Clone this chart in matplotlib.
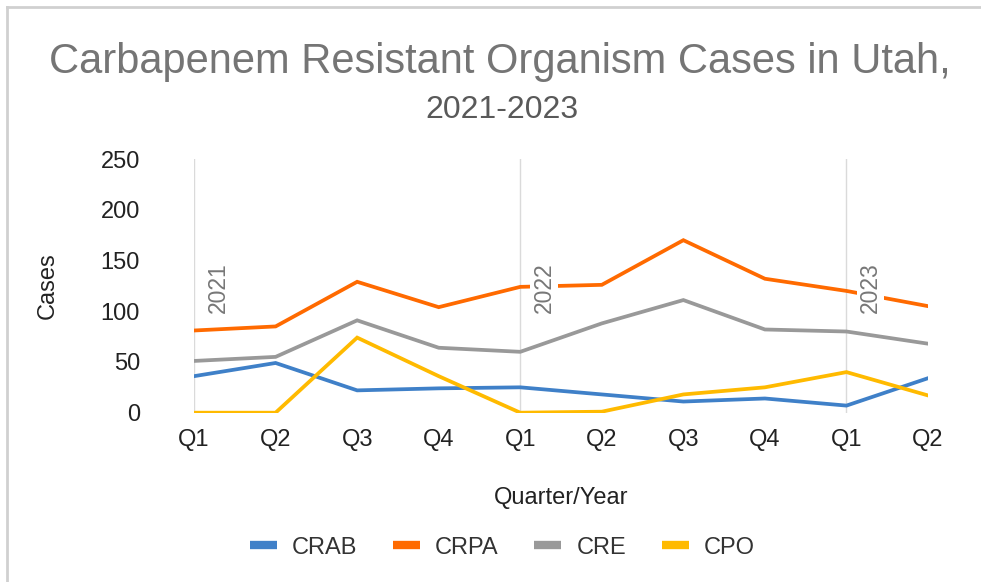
import matplotlib.pyplot as plt
from matplotlib.lines import Line2D

# quarters 2021 Q1 .. 2023 Q2
quarters = ['Q1', 'Q2', 'Q3', 'Q4', 'Q1', 'Q2', 'Q3', 'Q4', 'Q1', 'Q2']
years = ['2021', '2022', '2023']
year_starts = [0, 4, 8]

crab = [36, 49, 22, 24, 25, 18, 11, 14, 7, 34]
crpa = [81, 85, 129, 104, 124, 126, 170, 132, 120, 105]
cre = [51, 55, 91, 64, 60, 88, 111, 82, 80, 68]
cpo = [0, 0, 74, 36, 0, 1, 18, 25, 40, 17]

series = {'CRAB': crab, 'CRPA': crpa, 'CRE': cre, 'CPO': cpo}
colors = {'CRAB': '#3F80C8', 'CRPA': '#FF6A00', 'CRE': '#999999', 'CPO': '#FFBA00'}

plt.rcParams['font.family'] = ['Liberation Sans', 'DejaVu Sans']

fig = plt.figure(figsize=(9.81, 5.82), dpi=100)
ax = fig.add_axes([0.1978, 0.2909, 0.7482, 0.4359])

x = list(range(len(quarters)))
for name, vals in series.items():
	ax.plot(x, vals, color=colors[name], linewidth=2.7, label=name, solid_joinstyle='miter', zorder=3)

for xs, yr in zip(year_starts, years):
	ax.axvline(xs, color='#DADADA', linewidth=1, zorder=1)
	ax.annotate(yr, xy=(xs, 98), xytext=(9, 0), textcoords='offset points',
		rotation=90, ha='left', va='bottom', fontsize=16.5, color='#777777',
		bbox=dict(boxstyle='square,pad=0.1', fc='white', ec='none'), zorder=4)

ax.set_xlim(0, 9)
ax.set_ylim(0, 250)
ax.set_yticks([0, 50, 100, 150, 200, 250])
ax.set_xticks(x)
ax.set_xticklabels(quarters)
ax.tick_params(axis='both', length=0, labelsize=17, colors='#222222')
ax.tick_params(axis='x', pad=12)
ax.tick_params(axis='y', pad=39)
for s in ax.spines.values():
	s.set_visible(False)

ax.set_ylabel('Cases', fontsize=17, color='#222222', labelpad=30)
ax.set_xlabel('Quarter/Year', fontsize=17, color='#222222', labelpad=26)

fig.text(0.51, 0.875, 'Carbapenem Resistant Organism Cases in Utah,', ha='center', va='baseline',
	fontsize=30, color='#757575')
fig.text(0.512, 0.797, '2021-2023', ha='center', va='baseline', fontsize=23, color='#595959')

leg = ax.legend(loc='upper center', bbox_to_anchor=(0.42, -0.405), ncol=4, frameon=False,
	fontsize=17, handlelength=1.15, handletextpad=0.64, columnspacing=1.5)
for h in leg.legend_handles:
	h.set_linewidth(6)
	h.set_solid_capstyle('butt')
for t in leg.get_texts():
	t.set_color('#333333')

# border of the chart box (only top and left show in the crop)
fig.add_artist(Line2D([0.007, 1], [0.988, 0.988], color='#D0D0D0', linewidth=2, transform=fig.transFigure))
fig.add_artist(Line2D([0.007, 0.007], [0, 0.988], color='#D0D0D0', linewidth=2, transform=fig.transFigure))

fig.savefig('out.png', dpi=100)
